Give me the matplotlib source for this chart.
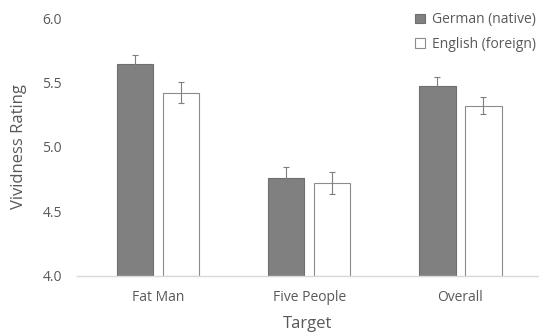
import matplotlib
matplotlib.use('Agg')
import matplotlib.pyplot as plt
import numpy as np

# Mean vividness ratings per target and language condition
targets = ['Fat Man', 'Five People', 'Overall']
german_means = [5.64, 4.76, 5.47]
german_err = [0.07, 0.085, 0.07]
english_means = [5.42, 4.72, 5.32]
english_err = [0.08, 0.085, 0.065]
series_labels = ['German (native)', 'English (foreign)']

plt.rcParams['font.family'] = ['Open Sans', 'DejaVu Sans']
text_color = '#595959'

fig = plt.figure(figsize=(5.39, 3.34), dpi=100)
ax = fig.add_axes([0.143, 0.174, 0.857, 0.772])

x = np.arange(len(targets))
w = 0.24
off = 0.152
err_kw = dict(ecolor='#7f7f7f', elinewidth=0.8, capsize=2, capthick=0.8)

ax.bar(x - off, np.array(german_means) - 4, w, bottom=4, yerr=german_err,
       color='#808080', edgecolor='#6e6e6e', linewidth=0.8,
       label=series_labels[0], error_kw=err_kw)
ax.bar(x + off, np.array(english_means) - 4, w, bottom=4, yerr=english_err,
       color='white', edgecolor='#8c8c8c', linewidth=0.8,
       label=series_labels[1], error_kw=err_kw)

ax.set_ylim(4.0, 6.0)
ax.set_xlim(-0.535, 2.52)
ax.set_yticks([4.0, 4.5, 5.0, 5.5, 6.0])
ax.set_yticklabels(['4.0', '4.5', '5.0', '5.5', '6.0'])
ax.set_xticks(x)
ax.set_xticklabels(targets)

for s in ['top', 'right', 'left']:
    ax.spines[s].set_visible(False)
ax.spines['bottom'].set_color('#d9d9d9')
ax.spines['bottom'].set_linewidth(1.0)
ax.tick_params(axis='both', length=0, colors=text_color, labelsize=10)
ax.tick_params(axis='y', pad=11)
ax.tick_params(axis='x', pad=10)

ax.set_ylabel('Vividness Rating', color=text_color, fontsize=12, labelpad=11)
ax.set_xlabel('Target', color=text_color, fontsize=12, labelpad=8)

leg = ax.legend(loc='upper right', bbox_to_anchor=(1.02, 1.07), frameon=False,
                fontsize=10, handlelength=0.7, handleheight=0.7,
                handletextpad=0.5, labelspacing=0.7)
for t in leg.get_texts():
    t.set_color(text_color)

fig.savefig('out.png', dpi=100)
